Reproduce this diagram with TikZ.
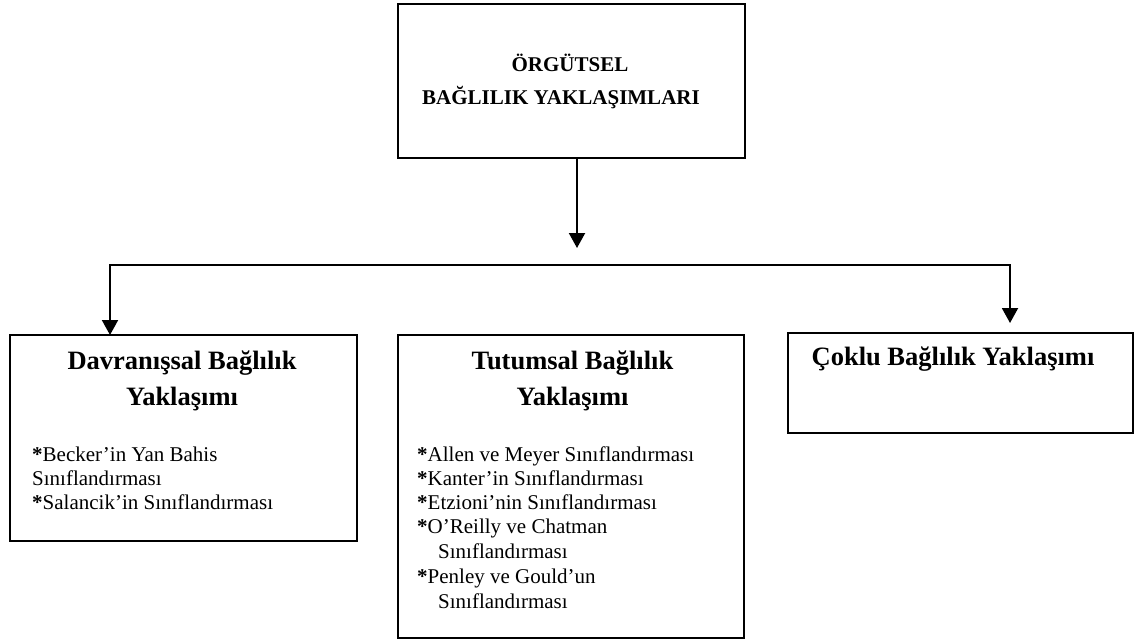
\documentclass[tikz,border=0pt]{standalone}
\usepackage{fontspec}
\setmainfont{Liberation Serif}
\usetikzlibrary{arrows.meta}
\newcommand{\bul}{\textbf{*}}
\begin{document}
\begin{tikzpicture}[x=1pt,y=-1pt,
  box/.style={draw,line width=1.5pt,inner sep=0pt,outer sep=0pt,anchor=north west},
  head/.style={font=\fontsize{26.5}{32}\selectfont\bfseries,inner sep=0pt,anchor=base},
  title/.style={font=\fontsize{21}{26}\selectfont\bfseries,inner sep=0pt},
  item/.style={font=\fontsize{21}{24}\selectfont,inner sep=0pt,anchor=base west},
  link/.style={line width=2pt,line join=miter},
  arrow/.style={link,-{Triangle[width=16pt,length=15pt]}}]
\useasboundingbox (0,0) rectangle (1147,639);
\fill[white] (0,0) rectangle (1147,639);

% boxes
\node[box,minimum width=347pt,minimum height=154pt] (top) at (398,4) {};
\node[box,minimum width=347pt,minimum height=206pt] (lb) at (10,335) {};
\node[box,minimum width=346pt,minimum height=303pt] (mb) at (398,335) {};
\node[box,minimum width=345pt,minimum height=100pt] (rb) at (788,333) {};

% title of the top box
\node[title,anchor=base] (t1) at (570,72) {ÖRGÜTSEL};
\node[title,anchor=base west] (t2) at (422,105) {BAĞLILIK YAKLAŞIMLARI};

% headings
\node[head] (lh1) at (182,369) {Davranışsal Bağlılık};
\node[head] (lh2) at (182,405) {Yaklaşımı};
\node[head] (mh1) at (572.5,369) {Tutumsal Bağlılık};
\node[head] (mh2) at (572.5,405) {Yaklaşımı};
\node[head] (rh) at (953,365) {Çoklu Bağlılık Yaklaşımı};

% left box items
\node[item] (l1) at (32,461) {\bul Becker’in Yan Bahis};
\node[item] (l2) at (32,485) {Sınıflandırması};
\node[item] (l3) at (32,509) {\bul Salancik’in Sınıflandırması};

% middle box items
\node[item] (m1) at (417,461) {\bul Allen ve Meyer Sınıflandırması};
\node[item] (m2) at (417,485) {\bul Kanter’in Sınıflandırması};
\node[item] (m3) at (417,509) {\bul Etzioni’nin Sınıflandırması};
\node[item] (m4) at (417,533) {\bul O’Reilly ve Chatman};
\node[item] (m5) at (438,558) {Sınıflandırması};
\node[item] (m6) at (417,583) {\bul Penley ve Gould’un};
\node[item] (m7) at (438,608) {Sınıflandırması};

% connectors
\coordinate (drop) at (577,248);
\coordinate (barL) at (110,265);
\coordinate (barR) at (1010,265);
\coordinate (rtip) at (1010,323);
\draw[arrow] (top.south -| drop) -- (drop);
\draw[arrow] (barR) -- (barL) -- (barL |- lb.north);
\draw[arrow] (barL) -- (barR) -- (rtip);
\end{tikzpicture}
\end{document}
